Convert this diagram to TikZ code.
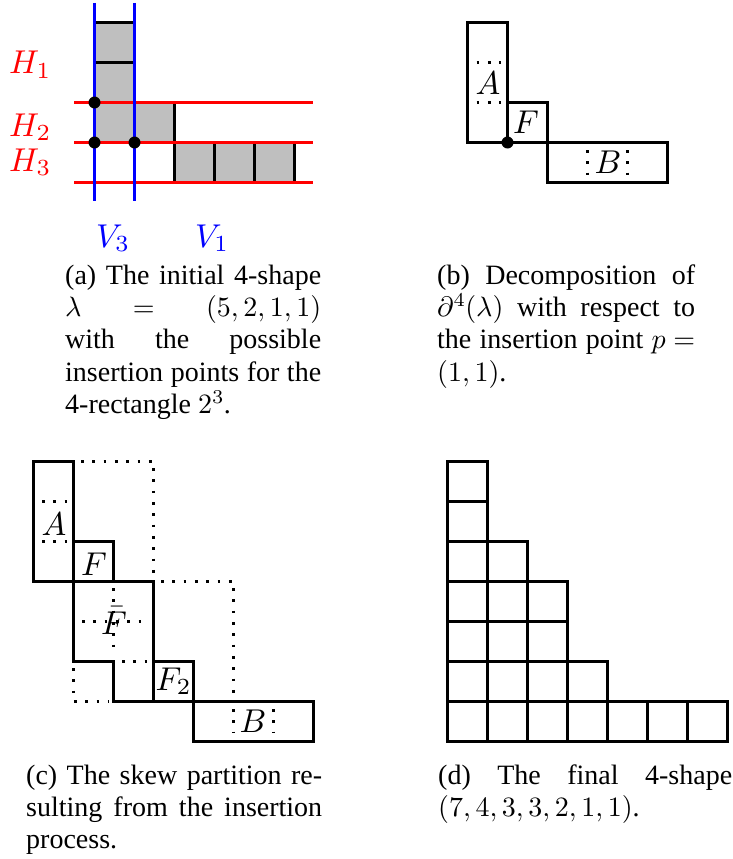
\documentclass[tikz,border=0pt]{standalone}
\usepackage[no-math]{fontspec}
\setmainfont{Liberation Serif}
\DeclareFontShape{OML}{cmm}{m}{it}{<-17>cmmi5 <17-26>cmmi7 <26->cmmi10}{}
\DeclareFontShape{OT1}{cmr}{m}{n}{<-17>cmr5 <17-26>cmr7 <26->cmr10}{}
\DeclareFontShape{OMS}{cmsy}{m}{n}{<-17>cmsy5 <17-26>cmsy7 <26->cmsy10}{}
\begin{document}
\begin{tikzpicture}[x=1pt,y=-1pt,
  blk/.style={line width=3pt},
  dotl/.style={line width=2.7pt, dash pattern=on 2.7pt off 8.6pt},
  lab/.style={font=\fontsize{33}{39}\selectfont, inner sep=0pt, anchor=base},
  hv/.style={font=\fontsize{33}{39}\selectfont, inner sep=0pt, anchor=base west},
  captxt/.style={inner sep=0pt, anchor=base west, font=\fontsize{28}{32.4}\selectfont},
  hline/.style={red, line width=2.5pt},
  vline/.style={blue, line width=2.5pt}]
\useasboundingbox (0,0) rectangle (733,859);

% ---------- (a) ----------
\fill[gray!50] (94.5,22.5) rectangle (134.5,142.5);
\fill[gray!50] (134.5,102.5) rectangle (174.5,142.5);
\fill[gray!50] (174.5,142.5) rectangle (294.5,182.5);
\draw[blk] (94.5,22.5) -- (134.5,22.5) (94.5,62.5) -- (134.5,62.5);
\draw[blk] (174.5,102.5) -- (174.5,182.5) (214.5,142.5) -- (214.5,182.5) (254.5,142.5) -- (254.5,182.5) (294.5,142.5) -- (294.5,182.5);
\draw[hline] (74,102.5) -- (313,102.5) (74,142.5) -- (313,142.5) (74,182.5) -- (313,182.5);
\draw[vline] (94.5,3) -- (94.5,201) (134.5,3) -- (134.5,201);
\fill (94.5,102.5) circle[radius=6pt] (94.5,142.5) circle[radius=6pt] (134.5,142.5) circle[radius=6pt];
\node[hv, red] (h1) at (9,74) {$H_1$};
\node[hv, red] (h2) at (9,136) {$H_2$};
\node[hv, red] (h3) at (9,171) {$H_3$};
\node[hv, blue] (v3) at (96,247) {$V_3$};
\node[hv, blue] (v1) at (195,247) {$V_1$};

\node[captxt] (capa) at (65,284) {\vtop{%
\hbox to 256pt{(a)\hfill The\hfill initial\hfill 4-shape}%
\hbox to 256pt{$\lambda$\hfill$=$\hfill$(5,2,1,1)$}%
\hbox to 256pt{with\hfill the\hfill possible}%
\hbox to 256pt{insertion\hfill points\hfill for\hfill the}%
\hbox{4-rectangle $2^3$.}}};

% ---------- (b) ----------
\draw[blk] (467.5,22.5) rectangle (507.5,142.5);
\draw[blk] (507.5,102.5) rectangle (547.5,142.5);
\draw[blk] (547.5,142.5) rectangle (667.5,182.5);
\fill (507.5,142.5) circle[radius=6pt];
\draw[dotl] (476.5,62.5) -- (501,62.5) (476.5,102.5) -- (501,102.5);
\draw[dotl] (587.5,150) -- (587.5,175) (627.5,150) -- (627.5,175);
\node[lab] (bA) at (488,94) {$A$};
\node[lab] (bF) at (526,133) {$F$};
\node[lab] (bB) at (608,173) {$B$};

\node[captxt] (capb) at (437,284) {\vtop{%
\hbox to 258pt{(b)\hfill Decomposition\hfill of}%
\hbox to 258pt{$\partial^4(\lambda)$\hfill with\hfill respect\hfill to}%
\hbox to 258pt{the\hfill insertion\hfill point\hfill $p=$}%
\hbox{$(1,1)$.}}};

% ---------- (c) ----------
\draw[dotl] (81,461.5) -- (153.5,461.5) -- (153.5,576);
\draw[dotl] (161,581.5) -- (233.5,581.5) -- (233.5,695);
\draw[dotl] (113.5,588) -- (113.5,655);
\draw[dotl] (82,621.5) -- (149,621.5);
\draw[dotl] (122,661.5) -- (149,661.5);
\draw[dotl] (73.5,668) -- (73.5,701.5) -- (108,701.5);
\draw[dotl] (42,501.5) -- (67,501.5) (42,541.5) -- (67,541.5);
\draw[dotl] (233.5,709) -- (233.5,733) (273.5,709) -- (273.5,733);
\draw[blk] (33.5,461.5) rectangle (73.5,581.5);
\draw[blk] (73.5,541.5) rectangle (113.5,581.5);
\draw[blk] (73.5,581.5) -- (153.5,581.5) -- (153.5,701.5) -- (113.5,701.5) -- (113.5,661.5) -- (73.5,661.5) -- cycle;
\draw[blk] (153.5,661.5) rectangle (193.5,701.5);
\draw[blk] (193.5,701.5) rectangle (313.5,741.5);
\node[lab] (cA) at (54,535) {$A$};
\node[lab] (cF) at (94,575) {$F$};
\node[lab] (cFb) at (114,634) {$\bar F$};
\node[lab] (cF2) at (173,690) {$F_2$};
\node[lab] (cB) at (253,732) {$B$};

\node[captxt] (capc) at (26,784) {\vtop{%
\hbox to 296pt{(c)\hfill The\hfill skew\hfill partition\hfill re-}%
\hbox to 296pt{sulting\hfill from\hfill the\hfill insertion}%
\hbox{process.}}};

% ---------- (d) ----------
\foreach \c/\h in {0/7,1/5,2/4,3/2,4/1,5/1,6/1}{
  \foreach \r in {1,...,\h}{
    \draw[blk] ({447.5+40*\c},{741.5-40*\r}) rectangle ++(40,40);
  }
}
\node[captxt] (capd) at (438,784) {\vtop{%
\hbox to 294pt{(d)\hfill The\hfill final\hfill 4-shape}%
\hbox{$(7,4,3,3,2,1,1)$.}}};
\end{tikzpicture}
\end{document}
